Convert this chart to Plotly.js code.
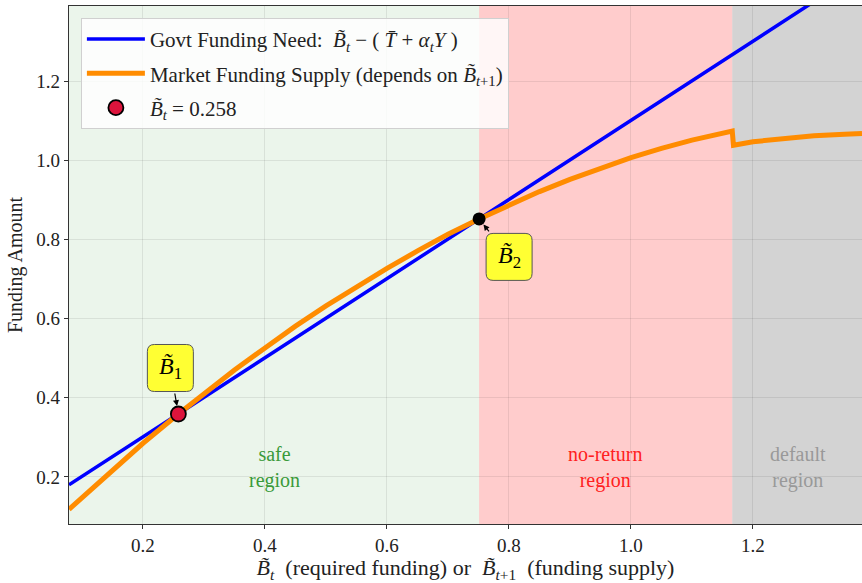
<!DOCTYPE html>
<html>
<head>
<meta charset="utf-8">
<script src="https://cdn.plot.ly/plotly-3.0.1.min.js"></script>
<style>html,body{margin:0;padding:0;background:#fff;}#chart{width:862px;height:583px;}</style>
</head>
<body>
<div id="chart"></div>
<script>
// Govt funding need (straight line)
const needX = [0.0787, 0.2, 0.4, 0.6, 0.8, 1.0, 1.2, 1.3787];
const needY = [0.180, 0.301, 0.501, 0.701, 0.901, 1.101, 1.301, 1.480];
// Market funding supply
const supplyX = [0.0787, 0.15, 0.2, 0.258, 0.3, 0.35, 0.4, 0.45, 0.5, 0.55, 0.6, 0.65, 0.7, 0.751, 0.8, 0.85, 0.9, 0.95, 1.0, 1.05, 1.1, 1.166, 1.168, 1.2, 1.25, 1.3, 1.35, 1.3787];
const supplyY = [0.118, 0.218, 0.285, 0.359, 0.411, 0.470, 0.526, 0.581, 0.632, 0.681, 0.727, 0.771, 0.813, 0.852, 0.887, 0.921, 0.952, 0.981, 1.007, 1.030, 1.051, 1.074, 1.038, 1.047, 1.056, 1.062, 1.066, 1.068];
// Equilibria
const b1 = [0.258, 0.359];
const b2 = [0.751, 0.852];
// Regions
const regionEdges = [0.0787, 0.751, 1.166, 1.3787];
const regionLabels = ["safe<br>region", "no-return<br>region", "default<br>region"];
const regionLabelX = [0.415, 0.957, 1.274];
const tickVals = [0.2, 0.4, 0.6, 0.8, 1.0, 1.2];

const FONT = "Liberation Serif, DejaVu Serif, serif";

const traces = [
  {x: needX, y: needY, mode: 'lines', line: {color: '#0000ff', width: 3.5},
   name: 'Govt Funding Need:  <i>B̃</i><sub><i>t</i></sub> − ( <i>T̄</i> + <i>α</i><sub><i>t</i></sub><i>Y</i> )', legendgroup: 'a'},
  {x: supplyX, y: supplyY, mode: 'lines', line: {color: '#ff8c00', width: 5},
   name: 'Market Funding Supply (depends on <i>B̃</i><sub><i>t</i>+1</sub>)', legendgroup: 'b'},
  {x: [b1[0]], y: [b1[1]], mode: 'markers', marker: {color: '#dc143c', size: 15, line: {color: '#000', width: 1.8}},
   name: '<i>B̃</i><sub><i>t</i></sub> = 0.258', legendgroup: 'c'},
  {x: [b2[0]], y: [b2[1]], mode: 'markers', marker: {color: '#000', size: 13}, showlegend: false}
];

function roundRect(cx, cy, w, h, r) {
  const x0 = cx - w / 2, x1 = cx + w / 2, y0 = cy - h / 2, y1 = cy + h / 2;
  return `M ${x0 + r} ${y0} L ${x1 - r} ${y0} Q ${x1} ${y0} ${x1} ${y0 + r} L ${x1} ${y1 - r} Q ${x1} ${y1} ${x1 - r} ${y1} ` +
         `L ${x0 + r} ${y1} Q ${x0} ${y1} ${x0} ${y1 - r} L ${x0} ${y0 + r} Q ${x0} ${y0} ${x0 + r} ${y0} Z`;
}

const fills = ['rgba(0,128,0,0.08)', 'rgba(255,0,0,0.2)', 'rgba(128,128,128,0.35)'];
const textCols = ['#3a9a3a', '#ff2020', '#999999'];
const shapes = [];
const annotations = [];
for (let i = 0; i < 3; i++) {
  shapes.push({type: 'rect', xref: 'x', yref: 'paper', x0: regionEdges[i], x1: regionEdges[i+1], y0: 0, y1: 1,
    fillcolor: fills[i], line: {width: 0}, layer: 'below'});
  annotations.push({x: regionLabelX[i], y: 0.223, xref: 'x', yref: 'y', text: regionLabels[i], showarrow: false,
    font: {family: FONT, size: 20, color: textCols[i]}});
}
const boxes = [{pt: b1, ax: -8, ay: -46, label: '<i>B̃</i><sub>1</sub>', standoff: 8},
               {pt: b2, ax: 30, ay: 38, label: '<i>B̃</i><sub>2</sub>', standoff: 7}];
boxes.forEach(b => {
  shapes.push({type: 'path', xref: 'x', yref: 'y', xsizemode: 'pixel', ysizemode: 'pixel',
    xanchor: b.pt[0], yanchor: b.pt[1], path: roundRect(b.ax, -b.ay, 46, 47, 7),
    fillcolor: '#ffff33', line: {color: '#555', width: 1}, layer: 'above'});
  annotations.push({x: b.pt[0], y: b.pt[1], xref: 'x', yref: 'y', text: b.label, showarrow: true,
    ax: b.ax, ay: b.ay, arrowhead: 2, arrowsize: 1, arrowwidth: 1.2, arrowcolor: '#000', standoff: b.standoff,
    borderpad: 10, font: {family: FONT, size: 24, color: '#000'}});
});

const layout = {
  width: 862, height: 583,
  margin: {l: 69, r: 0, t: 6, b: 59},
  paper_bgcolor: '#fff', plot_bgcolor: '#fff',
  font: {family: FONT, size: 18, color: '#222'},
  showlegend: true,
  legend: {x: 0.015, y: 0.977, xanchor: 'left', yanchor: 'top', bgcolor: 'rgba(255,255,255,0.82)',
    bordercolor: '#d0d0d0', borderwidth: 1, font: {family: FONT, size: 21, color: '#222'},
    traceorder: 'grouped', tracegroupgap: 4, itemwidth: 58},
  xaxis: {range: [0.0787, 1.3787], tickvals: tickVals, tickformat: '.1f', showgrid: true,
    gridcolor: 'rgba(0,0,0,0.08)', zeroline: false, showline: true, linecolor: '#333', linewidth: 1.2, mirror: true,
    ticks: 'outside', ticklen: 4, tickcolor: '#333', tickfont: {family: FONT, size: 19},
    title: {text: '<i>B̃</i><sub><i>t</i></sub>  (required funding) or  <i>B̃</i><sub><i>t</i>+1</sub>  (funding supply)', font: {family: FONT, size: 22}, standoff: 6}},
  yaxis: {range: [0.081, 1.39], tickvals: tickVals, tickformat: '.1f', showgrid: true,
    gridcolor: 'rgba(0,0,0,0.08)', zeroline: false, showline: true, linecolor: '#333', linewidth: 1.2, mirror: true,
    ticks: 'outside', ticklen: 4, tickcolor: '#333', tickfont: {family: FONT, size: 19},
    title: {text: 'Funding Amount', font: {family: FONT, size: 20}, standoff: 8}},
  shapes: shapes,
  annotations: annotations
};

Plotly.newPlot('chart', traces, layout, {displayModeBar: false, staticPlot: true});
</script>
</body>
</html>
